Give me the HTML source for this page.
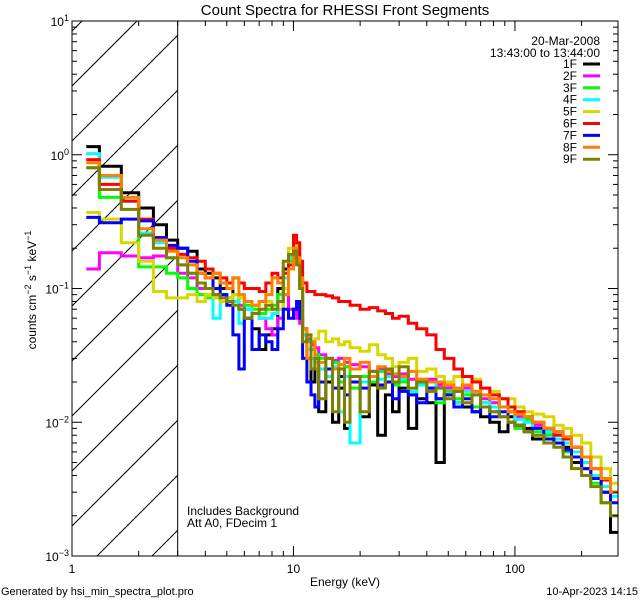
<!DOCTYPE html>
<html><head><meta charset="utf-8">
<style>
html,body{margin:0;padding:0;background:#fff;width:640px;height:600px;overflow:hidden;}
svg{display:block;font-family:"Liberation Sans",sans-serif;}
text{fill:#000;}
</style></head>
<body>
<svg id="chart" width="640" height="600" viewBox="0 0 640 600" xmlns="http://www.w3.org/2000/svg" overflow="hidden">
<rect x="0" y="0" width="640" height="600" fill="#fff"/>
<text x="345" y="15" font-size="15" text-anchor="middle">Count Spectra for RHESSI Front Segments</text>
<g id="hatch"></g>
<g id="series"></g>
<g id="axes"></g>
<text transform="translate(36,290) rotate(-90)" font-size="12" text-anchor="middle">counts cm<tspan dy="-5" font-size="9">−2</tspan><tspan dy="5"> s</tspan><tspan dy="-5" font-size="9">−1</tspan><tspan dy="5"> keV</tspan><tspan dy="-5" font-size="9">−1</tspan></text>
<text x="345" y="586" font-size="12" text-anchor="middle">Energy (keV)</text>
<text x="1" y="595" font-size="11">Generated by hsi_min_spectra_plot.pro</text>
<text x="638" y="595" font-size="11" text-anchor="end">10-Apr-2023 14:15</text>
<text x="187" y="515" font-size="12">Includes Background</text>
<text x="187" y="527" font-size="12">Att A0, FDecim 1</text>
<text x="600" y="45" font-size="12" text-anchor="end">20-Mar-2008</text>
<text x="600" y="57" font-size="12" text-anchor="end">13:43:00 to 13:44:00</text>
<g id="legend"></g>
</svg>
<script>
const edges = [1.16,1.33,1.67,2,2.33,2.67,3,3.33,3.67,4,4.33,4.67,5,5.33,5.67,6,6.5,7,7.5,8,8.5,9,9.5,10,10.33,10.67,11,11.5,12,12.5,13,14,15,16,17,18,20,22,24,26,28,30,33,36,40,44,48,53,58,64,70,77,85,93,100,110,120,135,150,165,180,200,220,245,270,292];
const seriesNames = ["1F","2F","3F","4F","5F","6F","7F","8F","9F"];
const seriesColors = ["#000000","#ff00ff","#00ff00","#00ffff","#d8d800","#ff0000","#0000ff","#ff8000","#808000"];
const s1F = [1.15,0.82,0.52,0.40,0.30,0.23,0.20,0.19,0.14,0.13,
 0.12,0.10,0.10,0.09,0.07,0.06,0.05,0.035,0.045,0.05,
 0.10,0.14,0.17,0.20,0.18,0.10,0.05,0.03,0.02,0.025,
 0.012,0.02,0.01,0.018,0.009,0.02,0.011,0.019,0.008,0.016,
 0.012,0.018,0.009,0.015,0.014,0.005,0.016,0.014,0.013,0.012,
 0.011,0.010,0.0085,0.011,0.0095,0.009,0.0075,0.0085,0.007,0.0065,
 0.005,0.0045,0.0038,0.003,0.0015];
const s2F = [0.14,0.185,0.175,0.17,0.175,0.20,0.13,0.12,0.10,0.10,
 0.09,0.08,0.085,0.08,0.075,0.07,0.065,0.06,0.05,0.045,
 0.06,0.09,0.07,0.06,0.08,0.055,0.045,0.042,0.038,0.036,
 0.032,0.03,0.029,0.03,0.028,0.027,0.026,0.024,0.025,0.023,
 0.022,0.023,0.021,0.02,0.021,0.019,0.018,0.017,0.018,0.016,
 0.015,0.014,0.013,0.012,0.011,0.0105,0.0095,0.009,0.0085,0.0075,
 0.0065,0.0055,0.0045,0.0037,0.003];
const s3F = [0.80,0.48,0.45,0.145,0.145,0.13,0.12,0.10,0.09,0.085,
 0.085,0.09,0.085,0.08,0.09,0.075,0.07,0.065,0.07,0.075,
 0.09,0.12,0.16,0.19,0.17,0.10,0.05,0.04,0.035,0.032,
 0.03,0.025,0.028,0.02,0.026,0.018,0.022,0.02,0.024,0.02,
 0.019,0.02,0.016,0.021,0.018,0.014,0.017,0.015,0.016,0.013,
 0.014,0.012,0.011,0.012,0.009,0.0105,0.0085,0.008,0.0075,0.006,
 0.0055,0.0045,0.0035,0.0025,0.002];
const s4F = [1.02,0.68,0.45,0.26,0.22,0.17,0.15,0.13,0.11,0.10,
 0.06,0.09,0.085,0.08,0.055,0.07,0.065,0.06,0.06,0.065,
 0.08,0.12,0.17,0.22,0.21,0.12,0.045,0.035,0.03,0.028,
 0.025,0.022,0.026,0.012,0.022,0.007,0.02,0.024,0.021,0.022,
 0.02,0.021,0.017,0.019,0.02,0.015,0.019,0.014,0.017,0.016,
 0.014,0.013,0.011,0.012,0.0105,0.01,0.009,0.0085,0.0075,0.007,
 0.006,0.005,0.004,0.0033,0.0028];
const s5F = [0.37,0.33,0.22,0.16,0.095,0.085,0.085,0.09,0.08,0.09,
 0.085,0.08,0.085,0.09,0.085,0.08,0.075,0.07,0.08,0.07,
 0.07,0.10,0.20,0.22,0.20,0.13,0.05,0.045,0.04,0.042,
 0.048,0.04,0.042,0.038,0.04,0.036,0.034,0.038,0.032,0.03,
 0.026,0.028,0.03,0.024,0.025,0.022,0.02,0.022,0.019,0.021,
 0.018,0.017,0.015,0.015,0.013,0.012,0.0115,0.011,0.0095,0.009,
 0.008,0.007,0.0055,0.0045,0.0035];
const s6F = [0.92,0.60,0.45,0.33,0.24,0.20,0.18,0.17,0.16,0.14,
 0.13,0.12,0.11,0.12,0.11,0.10,0.10,0.095,0.11,0.13,
 0.12,0.13,0.15,0.25,0.22,0.16,0.11,0.095,0.095,0.09,
 0.09,0.088,0.085,0.08,0.08,0.075,0.07,0.072,0.068,0.065,
 0.06,0.062,0.055,0.05,0.045,0.035,0.03,0.025,0.022,0.02,
 0.018,0.016,0.015,0.013,0.012,0.011,0.01,0.009,0.008,0.0075,
 0.0065,0.0055,0.0045,0.0037,0.003];
const s7F = [0.34,0.31,0.33,0.32,0.24,0.21,0.20,0.16,0.13,0.12,
 0.10,0.09,0.075,0.045,0.025,0.06,0.035,0.045,0.04,0.035,
 0.05,0.07,0.06,0.07,0.08,0.06,0.03,0.02,0.016,0.013,
 0.02,0.025,0.018,0.022,0.016,0.02,0.018,0.022,0.019,0.02,
 0.015,0.017,0.016,0.014,0.018,0.015,0.016,0.013,0.015,0.012,
 0.013,0.011,0.012,0.01,0.0095,0.0085,0.009,0.0075,0.007,0.0062,
 0.0055,0.0045,0.0038,0.003,0.0025];
const s8F = [0.87,0.70,0.48,0.28,0.23,0.19,0.17,0.15,0.13,0.12,
 0.13,0.11,0.10,0.12,0.09,0.08,0.075,0.08,0.09,0.12,
 0.11,0.09,0.14,0.20,0.17,0.12,0.05,0.03,0.04,0.025,
 0.028,0.03,0.025,0.027,0.03,0.025,0.028,0.022,0.026,0.024,
 0.023,0.022,0.024,0.021,0.02,0.02,0.019,0.018,0.019,0.017,
 0.016,0.015,0.013,0.012,0.0115,0.011,0.01,0.009,0.0085,0.0078,
 0.0065,0.0055,0.0045,0.0038,0.003];
const s9F = [0.80,0.55,0.39,0.25,0.20,0.17,0.15,0.13,0.11,0.10,
 0.09,0.085,0.08,0.075,0.07,0.06,0.065,0.07,0.075,0.07,
 0.08,0.16,0.18,0.19,0.15,0.10,0.04,0.045,0.025,0.03,
 0.015,0.03,0.012,0.025,0.01,0.022,0.012,0.024,0.018,0.025,
 0.02,0.026,0.018,0.02,0.017,0.018,0.015,0.017,0.014,0.016,
 0.013,0.012,0.011,0.01,0.0095,0.0085,0.008,0.007,0.0065,0.0055,
 0.0045,0.004,0.0033,0.0025,0.002];
const xTickLabels = ["1","10","100"];
const yTickExps = ["-3","-2","-1","0","1"];

const NS = "http://www.w3.org/2000/svg";
const L = 72, R = 618, T = 21, B = 556;
const XMIN = 0, XMAX = Math.log10(292), YMIN = -3, YMAX = 1;
function xs(e){ return L + (Math.log10(e) - XMIN) / (XMAX - XMIN) * (R - L); }
function ys(v){ return B - (Math.log10(v) - YMIN) / (YMAX - YMIN) * (B - T); }
function mk(tag, attrs, parent){ const el = document.createElementNS(NS, tag); for (const k in attrs) el.setAttribute(k, attrs[k]); parent.appendChild(el); return el; }

const hatch = document.getElementById('hatch');
const defs = mk('defs', {}, document.getElementById('chart'));
const cp = mk('clipPath', {id:'hclip'}, defs);
mk('rect', {x:L, y:T, width:xs(3)-L, height:B-T}, cp);
const hg = mk('g', {'clip-path':'url(#hclip)'}, hatch);
for (let k = -12; k < 14; k++) {
  const y0 = 86 + k*55;
  const ln = mk('line', {x1:L, y1:y0, x2:L+200, y2:y0-200, stroke:'#000', 'stroke-width':1}, hg);
  
  
}
const vl = mk('line', {x1:xs(3), y1:T, x2:xs(3), y2:B, stroke:'#000', 'stroke-width':1}, hatch);



const allSeries = [s1F,s2F,s3F,s4F,s5F,s6F,s7F,s8F,s9F];
const sg = document.getElementById('series');
const scp = mk('clipPath', {id:'pclip'}, defs);
mk('rect', {x:L, y:T, width:R-L, height:B-T}, scp);
sg.setAttribute('clip-path', 'url(#pclip)');
allSeries.forEach((vals, si) => {
  let d = '';
  const n = Math.min(vals.length, edges.length - 1);
  for (let i = 0; i < n; i++) {
    const x0 = xs(edges[i]), x1 = xs(edges[i+1]), y = ys(vals[i]);
    d += (i === 0 ? 'M' : 'L') + x0.toFixed(1) + ',' + y.toFixed(1) + 'L' + x1.toFixed(1) + ',' + y.toFixed(1);
  }
  const p = mk('path', {d:d, fill:'none', stroke:seriesColors[si], 'stroke-width':3, 'stroke-linejoin':'miter'}, sg);
  
  
});

const ax = document.getElementById('axes');
mk('rect', {x:L, y:T, width:R-L, height:B-T, fill:'none', stroke:'#000', 'stroke-width':1}, ax);
for (let dec = 0; dec <= 2; dec++) {
  for (let m = 1; m <= 9; m++) {
    const e = m * Math.pow(10, dec);
    if (Math.log10(e) > XMAX) continue;
    const x = xs(e), len = m === 1 ? 10 : 5;
    const t1 = mk('line', {x1:x, y1:B, x2:x, y2:B-len, stroke:'#000'}, ax);
    
    
    mk('line', {x1:x, y1:T, x2:x, y2:T+len, stroke:'#000'}, ax);
  }
}
xTickLabels.forEach((lab) => {
  const t = mk('text', {x:xs(parseFloat(lab)), y:573, 'font-size':12, 'text-anchor':'middle'}, ax);
  t.textContent = lab;
  
  
});
for (let p = YMIN; p < YMAX; p++) {
  for (let m = 1; m <= 9; m++) {
    const v = m * Math.pow(10, p), y = ys(v), len = m === 1 ? 10 : 5;
    const t1 = mk('line', {x1:L, y1:y, x2:L+len, y2:y, stroke:'#000'}, ax);
    
    
    mk('line', {x1:R, y1:y, x2:R-len, y2:y, stroke:'#000'}, ax);
  }
}
yTickExps.forEach((ex) => {
  const y = ys(Math.pow(10, parseFloat(ex)));
  const t = mk('text', {x:L-3, y:y+5, 'font-size':12, 'text-anchor':'end'}, ax);
  
  
  const a = document.createElementNS(NS, 'tspan'); a.textContent = '10'; t.appendChild(a);
  const b = document.createElementNS(NS, 'tspan'); b.setAttribute('dy', '-5'); b.setAttribute('font-size', '9'); b.textContent = ex.replace('-', '−'); t.appendChild(b);
});

const lg = document.getElementById('legend');
seriesNames.forEach((nm, i) => {
  const y = 64 + i * 11.9;
  const t = mk('text', {x:577, y:y+4, 'font-size':12, 'text-anchor':'end'}, lg);
  t.textContent = nm;
  
  
  const l = mk('line', {x1:583, y1:y, x2:600, y2:y, stroke:seriesColors[i], 'stroke-width':3}, lg);
  
  
});
</script>
</body></html>
